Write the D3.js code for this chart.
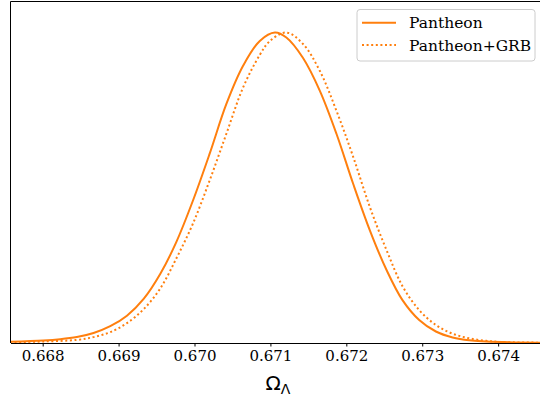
<!DOCTYPE html>
<html>
<head>
<meta charset="utf-8">
<script src="https://cdn.jsdelivr.net/npm/d3@7"></script>
<style>
    body { margin: 0; background: #fff; }
    svg { display: block; }
</style>
</head>
<body>
<div id="chart"></div>
<script>
// values (marginal densities, peak normalised to 1)
var pantheonX = [0.66757, 0.66801, 0.66823, 0.66845, 0.66867, 0.66889, 0.66911, 0.66933, 0.66955, 0.66976,
    0.66998, 0.67020, 0.67042, 0.67064, 0.67086, 0.67106, 0.67121, 0.67143, 0.67165, 0.67187,
    0.67209, 0.67231, 0.67253, 0.67274, 0.67296, 0.67318, 0.67340, 0.67362, 0.67406, 0.67460];
var pantheonY = [0.004, 0.008, 0.012, 0.019, 0.032, 0.054, 0.088, 0.142, 0.223, 0.325,
    0.459, 0.610, 0.770, 0.893, 0.973, 1.000, 0.984, 0.918, 0.813, 0.674,
    0.513, 0.363, 0.235, 0.138, 0.074, 0.037, 0.018, 0.009, 0.003, 0.001];

var grbX = [0.66757, 0.66801, 0.66845, 0.66867, 0.66889, 0.66911, 0.66933, 0.66955, 0.66976,
    0.66998, 0.67020, 0.67042, 0.67064, 0.67086, 0.67099, 0.67121, 0.67143, 0.67165, 0.67187,
    0.67209, 0.67231, 0.67253, 0.67274, 0.67296, 0.67318, 0.67340, 0.67362, 0.67384, 0.67406, 0.67460];
var grbY = [0.002, 0.005, 0.010, 0.019, 0.035, 0.064, 0.109, 0.176, 0.272,
    0.385, 0.524, 0.674, 0.823, 0.928, 0.972, 1.000, 0.963, 0.877, 0.748,
    0.600, 0.438, 0.299, 0.183, 0.106, 0.058, 0.030, 0.015, 0.007, 0.003, 0.001];

var xTicks = [0.668, 0.669, 0.670, 0.671, 0.672, 0.673, 0.674];
var seriesNames = ["Pantheon", "Pantheon+GRB"];

var width = 540,
    height = 400,
    plot = { left: 10.5, right: 545.5, top: 1.5, bottom: 343 },
    orange = "#ff7f0e",
    serif = "'DejaVu Serif', serif";

var x = d3.scaleLinear()
    .domain([0.667576, 0.674624])
    .range([plot.left, plot.right]);
var y = d3.scaleLinear()
    .domain([0, 1.1])
    .range([plot.bottom, plot.top]);

var svg = d3.select("#chart").append("svg")
    .attr("width", width)
    .attr("height", height);

svg.append("clipPath")
    .attr("id", "plotClip")
    .append("rect")
    .attr("x", plot.left)
    .attr("y", plot.top)
    .attr("width", plot.right - plot.left)
    .attr("height", plot.bottom - plot.top);

var line = d3.line()
    .x(function(d) { return x(d[0]); })
    .y(function(d) { return y(d[1]); })
    .curve(d3.curveCatmullRom.alpha(0.5));

var series = [
    { name: seriesNames[0], data: d3.zip(pantheonX, pantheonY), dash: null },
    { name: seriesNames[1], data: d3.zip(grbX, grbY), dash: "2,2.6" }
];

var curves = svg.append("g").attr("clip-path", "url(#plotClip)");
curves.selectAll(".density")
    .data(series)
    .enter().append("path")
    .attr("class", "density")
    .attr("d", function(d) { return line(d.data); })
    .attr("fill", "none")
    .attr("stroke", orange)
    .attr("stroke-width", 2)
    .attr("stroke-dasharray", function(d) { return d.dash; });

// spines
svg.append("line")
    .attr("x1", plot.left).attr("x2", plot.left)
    .attr("y1", plot.top).attr("y2", plot.bottom)
    .attr("stroke", "#000").attr("stroke-width", 1);
svg.append("line")
    .attr("x1", plot.left).attr("x2", width)
    .attr("y1", plot.top).attr("y2", plot.top)
    .attr("stroke", "#000").attr("stroke-width", 1);

var xAxis = d3.axisBottom(x)
    .tickValues(xTicks)
    .tickFormat(d3.format(".3f"))
    .tickSize(3.5)
    .tickSizeOuter(0)
    .tickPadding(4);

var gx = svg.append("g")
    .attr("transform", "translate(0," + plot.bottom + ")")
    .call(xAxis)
    .attr("font-family", serif)
    .attr("font-size", 15);
gx.select(".domain").attr("stroke", "#000").attr("stroke-width", 1);
gx.selectAll(".tick line").attr("stroke", "#000").attr("stroke-width", 1);
gx.selectAll(".tick text")
    .attr("fill", "#000")
    .attr("font-family", serif)
    .attr("font-size", 15);

// axis label Omega_Lambda
var label = svg.append("text")
    .attr("x", 278)
    .attr("y", 390)
    .attr("text-anchor", "middle")
    .attr("font-family", "'DejaVu Sans', sans-serif")
    .attr("font-size", 20)
    .attr("fill", "#000");
label.append("tspan").text("Ω");
label.append("tspan")
    .attr("dy", 4)
    .attr("font-size", 14)
    .text("Λ");

// legend
var legend = svg.append("g").attr("transform", "translate(357,9.5)");
legend.append("rect")
    .attr("width", 178)
    .attr("height", 51.5)
    .attr("rx", 3)
    .attr("fill", "#fff")
    .attr("fill-opacity", 0.8)
    .attr("stroke", "#ccc")
    .attr("stroke-width", 1);

var items = legend.selectAll(".item")
    .data(series)
    .enter().append("g")
    .attr("class", "item")
    .attr("transform", function(d, i) { return "translate(0," + (13.3 + i * 22.3) + ")"; });
items.append("line")
    .attr("x1", 5).attr("x2", 39)
    .attr("stroke", orange)
    .attr("stroke-width", 2)
    .attr("stroke-dasharray", function(d) { return d.dash; });
items.append("text")
    .attr("x", 52)
    .attr("y", 5.5)
    .text(function(d) { return d.name; })
    .attr("font-family", serif)
    .attr("font-size", 15.5)
    .attr("fill", "#000");
</script>
</body>
</html>
